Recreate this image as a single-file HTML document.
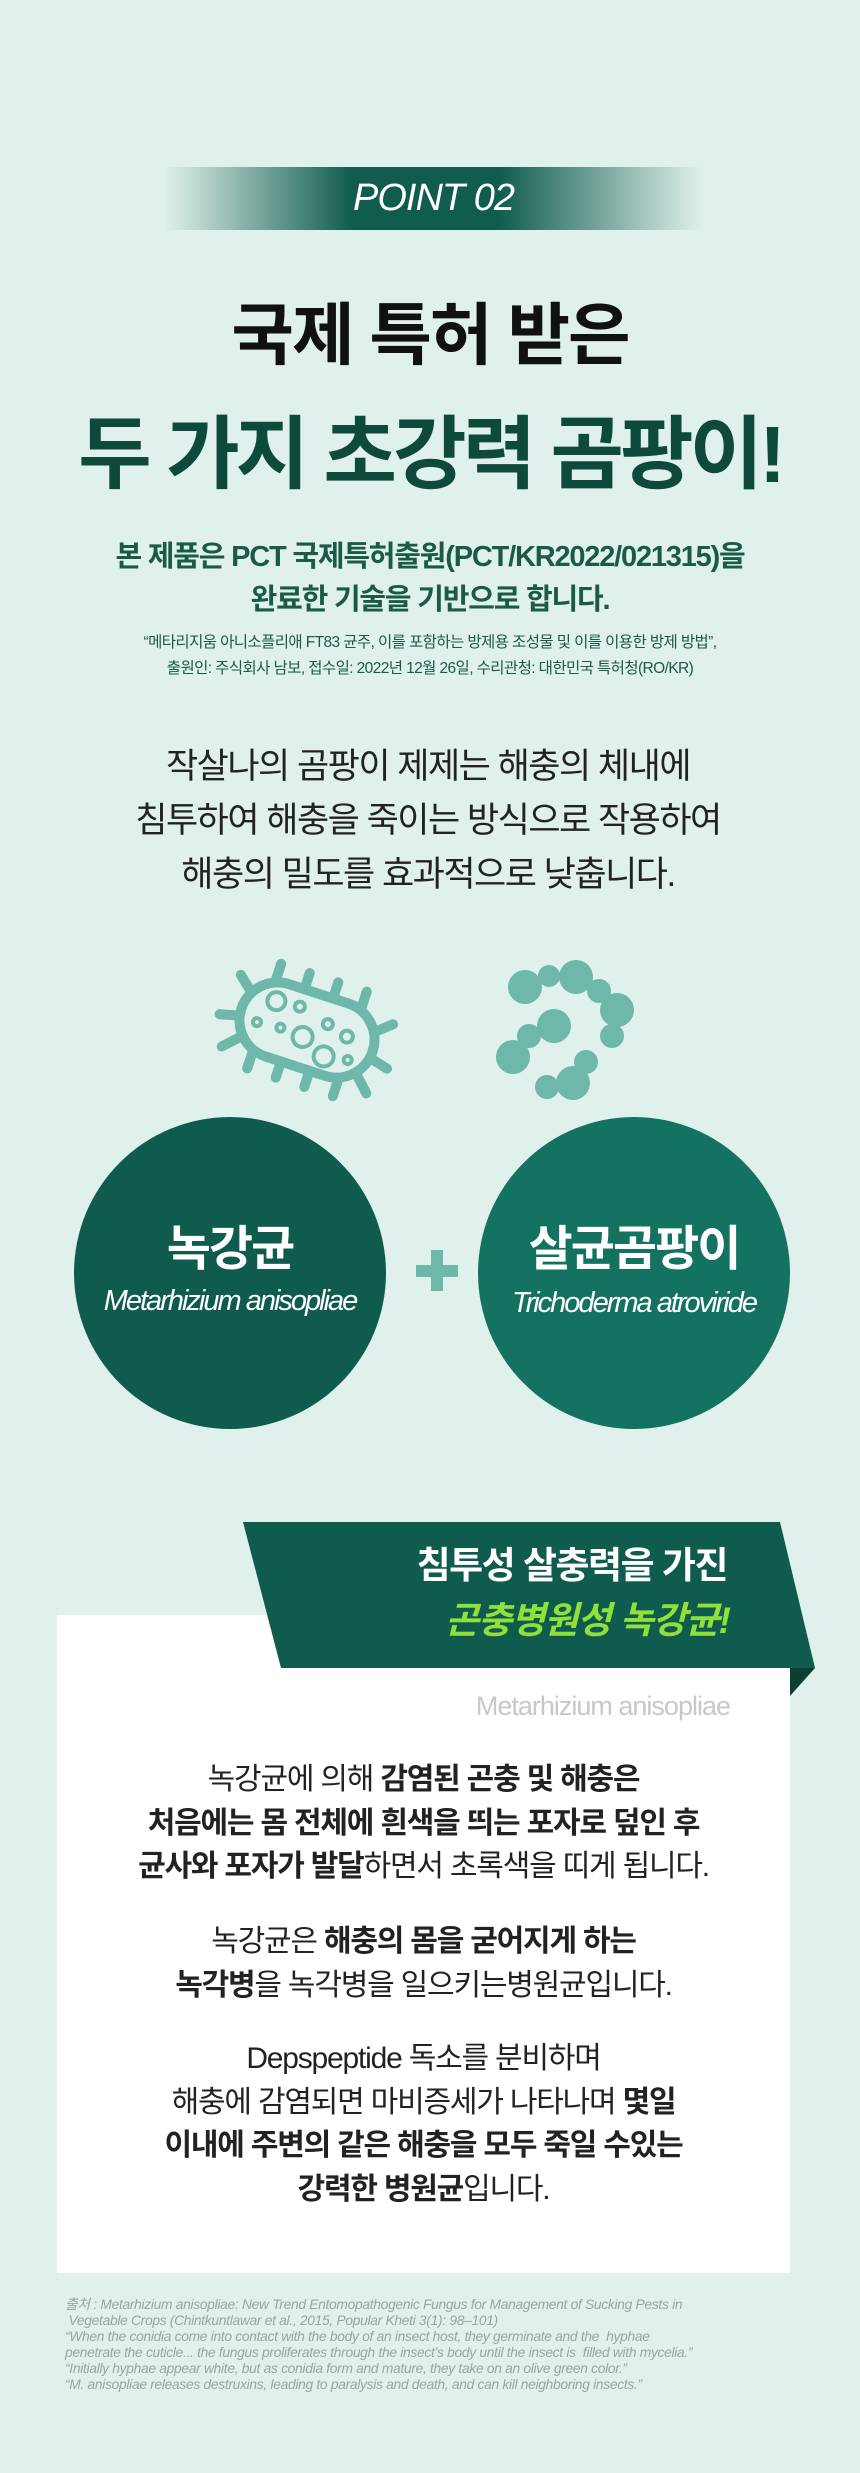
<!DOCTYPE html>
<html><head><meta charset="utf-8"><style>
*{margin:0;padding:0;box-sizing:border-box}
body{width:860px;height:2473px;background:#e0f0ec;font-family:"Liberation Sans","Noto Sans CJK KR",sans-serif;position:relative;overflow:hidden}
.a{position:absolute;white-space:nowrap}
.c{left:0;width:860px;text-align:center}
</style></head><body>
<div class="a" style="left:165px;top:167px;width:537px;height:63px;background:linear-gradient(90deg,rgba(16,90,76,0) 0%,#105c4d 35%,#105c4d 62%,rgba(16,90,76,0) 100%)"></div>
<div class="a" style="left:165px;top:172px;width:537px;text-align:center;color:#fff;font-size:38px;font-style:italic;line-height:52px;letter-spacing:-1px">POINT 02</div>

<div class="a c" style="top:294px;font-size:68px;font-weight:bold;color:#111;line-height:84px;letter-spacing:-2px">국제 특허 받은</div>
<div class="a c" style="top:405px;font-size:80px;font-weight:bold;color:#0e4a3c;line-height:100px;letter-spacing:-4px">두 가지 초강력 곰팡이!</div>

<div class="a c" style="top:536px;font-size:29px;font-weight:bold;color:#1a5a48;line-height:43px;letter-spacing:-1.2px">본 제품은 PCT 국제특허출원(PCT/KR2022/021315)을<br>완료한 기술을 기반으로 합니다.</div>
<div class="a c" style="top:630px;font-size:15.5px;color:#1a5a48;line-height:26px;letter-spacing:-0.6px">“메타리지움 아니소플리애 FT83 균주, 이를 포함하는 방제용 조성물 및 이를 이용한 방제 방법”,<br>출원인: 주식회사 남보, 접수일: 2022년 12월 26일, 수리관청: 대한민국 특허청(RO/KR)</div>

<div class="a c" style="top:740px;font-size:35px;color:#222;line-height:54px;letter-spacing:-1.5px;left:-2px">작살나의 곰팡이 제제는 해충의 체내에<br>침투하여 해충을 죽이는 방식으로 작용하여<br>해충의 밀도를 효과적으로 낮춥니다.</div>

<svg class="a" style="left:0;top:940px" width="860" height="180">
<g transform="translate(307,90) rotate(18)" stroke="#6db8a8" stroke-width="10" stroke-linecap="round" fill="none">
<rect x="-69" y="-38" width="138" height="76" rx="38"/>
<line x1="-45" y1="-38" x2="-45" y2="-55"/><line x1="-15" y1="-38" x2="-15" y2="-55"/><line x1="15" y1="-38" x2="15" y2="-55"/><line x1="45" y1="-38" x2="45" y2="-55"/>
<line x1="-45" y1="38" x2="-45" y2="55"/><line x1="-15" y1="38" x2="-15" y2="55"/><line x1="15" y1="38" x2="15" y2="55"/><line x1="45" y1="38" x2="45" y2="55"/>
<line x1="-66" y1="-20" x2="-80" y2="-32"/><line x1="-72" y1="8" x2="-88" y2="12"/><line x1="-62" y1="28" x2="-76" y2="42"/>
<line x1="66" y1="-20" x2="80" y2="-32"/><line x1="72" y1="8" x2="88" y2="12"/><line x1="62" y1="28" x2="76" y2="42"/>
</g>
<g transform="translate(307,90) rotate(18)" stroke="#6db8a8" stroke-width="4" fill="none">
<circle cx="-38" cy="-18" r="9"/><circle cx="-14" cy="-20" r="5"/><circle cx="-50" cy="8" r="4"/><circle cx="-26" cy="6" r="4"/><circle cx="-2" cy="8" r="10"/><circle cx="18" cy="-12" r="5"/><circle cx="40" cy="-6" r="6"/><circle cx="24" cy="20" r="10"/><circle cx="48" cy="16" r="4"/>
</g>
<g fill="#6db8a8">
<circle cx="525" cy="47" r="17"/><circle cx="549" cy="36" r="11"/><circle cx="576" cy="37" r="17"/><circle cx="599" cy="51" r="12"/><circle cx="617" cy="70" r="17"/><circle cx="612" cy="96" r="12"/><circle cx="554" cy="86" r="17"/><circle cx="529" cy="96" r="12"/><circle cx="513" cy="117" r="17"/><circle cx="586" cy="122" r="12"/><circle cx="573" cy="143" r="17"/><circle cx="547" cy="147" r="12"/>
</g>
</svg>

<div class="a" style="left:74px;top:1117px;width:312px;height:312px;border-radius:50%;background:#0f5c4e"></div>
<div class="a" style="left:478px;top:1117px;width:312px;height:312px;border-radius:50%;background:#137360"></div>
<div class="a" style="left:431px;top:1250px;width:12px;height:41px;background:#6db8a8"></div>
<div class="a" style="left:416px;top:1265px;width:42px;height:12px;background:#6db8a8"></div>
<div class="a" style="left:74px;top:1220px;width:312px;text-align:center;color:#fff;font-size:48px;font-weight:bold;line-height:60px;letter-spacing:-2px">녹강균</div>
<div class="a" style="left:74px;top:1283px;width:312px;text-align:center;color:#fff;font-size:29px;font-style:italic;line-height:36px;letter-spacing:-2px">Metarhizium anisopliae</div>
<div class="a" style="left:478px;top:1220px;width:312px;text-align:center;color:#fff;font-size:48px;font-weight:bold;line-height:60px;letter-spacing:-2px">살균곰팡이</div>
<div class="a" style="left:478px;top:1285px;width:312px;text-align:center;color:#fff;font-size:29px;font-style:italic;line-height:36px;letter-spacing:-2px">Trichoderma atroviride</div>

<div class="a" style="left:57px;top:1615px;width:733px;height:658px;background:#fff"></div>
<svg class="a" style="left:0;top:1500px" width="860" height="210">
<polygon points="243,22 780,22 815,168 281,168" fill="#0f5c4e"/>
<polygon points="790,168 815,168 790,196" fill="#0b3f33"/>
</svg>
<div class="a" style="left:300px;top:1540px;width:427px;text-align:right;color:#fff;font-size:37px;font-weight:bold;line-height:52px;letter-spacing:-1.5px">침투성 살충력을 가진</div>
<div class="a" style="left:300px;top:1594px;width:430px;text-align:right;color:#8fe03a;font-size:37px;font-style:italic;font-weight:bold;line-height:54px;letter-spacing:-1px">곤충병원성 녹강균!</div>
<div class="a" style="left:300px;top:1689px;width:430px;text-align:right;color:#c8c8c8;font-size:27px;line-height:34px;letter-spacing:-1px">Metarhizium anisopliae</div>

<div class="a" style="left:57px;top:1758px;width:733px;text-align:center;color:#222;font-size:30px;line-height:43.5px;letter-spacing:-1.2px">녹강균에 의해 <b>감염된 곤충 및 해충은</b><br><b>처음에는 몸 전체에 흰색을 띄는 포자로 덮인 후</b><br><b>균사와 포자가 발달</b>하면서 초록색을 띠게 됩니다.</div>
<div class="a" style="left:57px;top:1920px;width:733px;text-align:center;color:#222;font-size:30px;line-height:43.5px;letter-spacing:-1.2px">녹강균은 <b>해충의 몸을 굳어지게 하는</b><br><b>녹각병</b>을 녹각병을 일으키는병원균입니다.</div>
<div class="a" style="left:57px;top:2037px;width:733px;text-align:center;color:#222;font-size:30px;line-height:43.5px;letter-spacing:-1.2px">Depspeptide 독소를 분비하며<br>해충에 감염되면 마비증세가 나타나며 <b>몇일</b><br><b>이내에 주변의 같은 해충을 모두 죽일 수있는</b><br><b>강력한 병원균</b>입니다.</div>

<div class="a" style="left:65px;top:2297px;color:#9aa5a2;font-size:13.8px;font-style:italic;line-height:16px;letter-spacing:-0.3px">출처 : Metarhizium anisopliae: New Trend Entomopathogenic Fungus for Management of Sucking Pests in<br>&nbsp;Vegetable Crops (Chintkuntlawar et al., 2015, Popular Kheti 3(1): 98–101)<br>“When the conidia come into contact with the body of an insect host, they germinate and the &nbsp;hyphae<br>penetrate the cuticle... the fungus proliferates through the insect’s body until the insect is &nbsp;filled with mycelia.”<br>“Initially hyphae appear white, but as conidia form and mature, they take on an olive green color.”<br>“M. anisopliae releases destruxins, leading to paralysis and death, and can kill neighboring insects.”</div>
</body></html>
